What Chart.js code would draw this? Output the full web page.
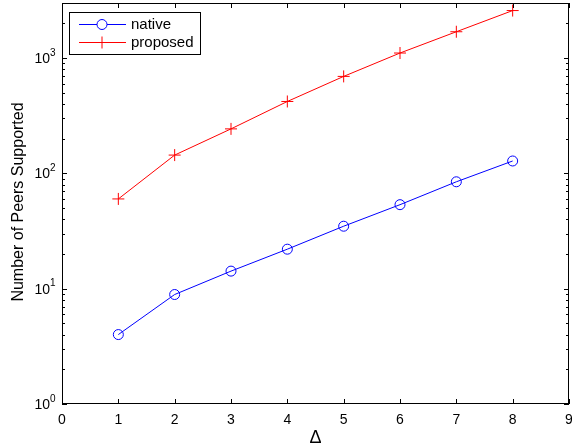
<!DOCTYPE html>
<html>
<head>
<meta charset="utf-8">
<script src="https://cdn.jsdelivr.net/npm/chart.js@4.4.1/dist/chart.umd.min.js"></script>
<style>
  html, body { margin: 0; padding: 0; background: #fff; }
  #wrap { width: 572px; height: 448px; }
</style>
</head>
<body>
<div id="wrap"><canvas id="peerChart" width="572" height="448"></canvas></div>
<script>
// data
const deltas = [1, 2, 3, 4, 5, 6, 7, 8];
const nativePeers = [4, 8.9, 14.2, 22, 34.8, 53.5, 84.5, 128];
const proposedPeers = [60, 144, 243, 420, 693, 1105, 1690, 2580];
const xTicks = [0, 1, 2, 3, 4, 5, 6, 7, 8, 9];
const yExponents = [0, 1, 2, 3];

const FONT = '"Liberation Sans", Arial, Helvetica, sans-serif';

const ctx = document.getElementById('peerChart').getContext('2d');

// MATLAB-ish axes: box, inward ticks, log minor ticks, 10^k labels, legend
const matlabAxes = {
    id: 'matlabAxes',
    afterDraw(chart) {
        const c = chart.ctx;
        const area = chart.chartArea;
        const xs = chart.scales.x;
        const ys = chart.scales.y;
        c.save();
        c.strokeStyle = '#000';
        c.lineWidth = 1;
        c.strokeRect(area.left + 0.5, area.top + 0.5, area.right - area.left - 1, area.bottom - area.top - 1);

        c.beginPath();
        xTicks.forEach(v => {
            let px = Math.round(xs.getPixelForValue(v)) + 0.5;
            c.moveTo(px, area.bottom);
            c.lineTo(px, area.bottom - 5);
            c.moveTo(px, area.top);
            c.lineTo(px, area.top + 5);
        });
        for (let e = 0; e <= 3; e++) {
            for (let m = 1; m <= 9; m++) {
                let v = m * Math.pow(10, e);
                if (v > ys.max) break;
                let py = Math.round(ys.getPixelForValue(v)) + 0.5;
                let len = m === 1 ? 5 : 3;
                c.moveTo(area.left, py);
                c.lineTo(area.left + len, py);
                c.moveTo(area.right, py);
                c.lineTo(area.right - len, py);
            }
        }
        c.stroke();

        // tick labels
        c.fillStyle = '#000';
        c.font = '14px ' + FONT;
        c.textAlign = 'center';
        c.textBaseline = 'top';
        xTicks.forEach(v => {
            c.fillText(String(v), xs.getPixelForValue(v), area.bottom + 9);
        });
        yExponents.forEach(e => {
            let py = ys.getPixelForValue(Math.pow(10, e));
            c.font = '14px ' + FONT;
            c.textAlign = 'right';
            c.textBaseline = 'middle';
            c.fillText('10', area.left - 12, py + 1);
            c.font = '10px ' + FONT;
            c.textAlign = 'left';
            c.fillText(String(e), area.left - 12, py - 5);
        });

        // axis titles
        c.font = '18px ' + FONT;
        c.textAlign = 'center';
        c.textBaseline = 'alphabetic';
        c.fillText('\u0394', (area.left + area.right) / 2, 443);
        c.save();
        c.translate(23, 202);
        c.rotate(-Math.PI / 2);
        c.font = '16px ' + FONT;
        c.fillText('Number of Peers Supported', 0, 0);
        c.restore();

        // legend box
        const lx = 69, ly = 12, lw = 131, lh = 42;
        c.fillStyle = '#fff';
        c.fillRect(lx, ly, lw, lh);
        c.strokeRect(lx + 0.5, ly + 0.5, lw, lh);
        chart.data.datasets.forEach((ds, i) => {
            let y = ly + 12.5 + i * 18;
            c.strokeStyle = ds.borderColor;
            c.lineWidth = 1;
            c.beginPath();
            c.moveTo(lx + 10, y);
            c.lineTo(lx + 57, y);
            c.stroke();
            Chart.helpers.drawPoint(c, {
                pointStyle: ds.pointStyle,
                radius: ds.pointRadius,
                borderWidth: 1
            }, lx + 33, y);
            c.fillStyle = '#000';
            c.font = '15px ' + FONT;
            c.textAlign = 'left';
            c.textBaseline = 'middle';
            c.fillText(ds.label, lx + 62, y);
        });
        c.restore();
    }
};

let peerChart = new Chart(ctx, {
    type: 'line',
    data: {
        datasets: [
            {
                label: 'native',
                data: deltas.map((d, i) => ({ x: d, y: nativePeers[i] })),
                borderColor: '#0000ff',
                backgroundColor: 'rgba(0,0,0,0)',
                pointBorderColor: '#0000ff',
                pointBackgroundColor: 'rgba(0,0,0,0)',
                pointStyle: 'circle',
                pointRadius: 5,
                pointBorderWidth: 1,
                borderWidth: 1,
                tension: 0
            },
            {
                label: 'proposed',
                data: deltas.map((d, i) => ({ x: d, y: proposedPeers[i] })),
                borderColor: '#ff0000',
                backgroundColor: 'rgba(0,0,0,0)',
                pointBorderColor: '#ff0000',
                pointStyle: 'cross',
                pointRadius: 6,
                pointBorderWidth: 1,
                borderWidth: 1,
                tension: 0
            }
        ]
    },
    options: {
        responsive: false,
        animation: false,
        devicePixelRatio: 1,
        layout: {
            autoPadding: false,
            padding: { left: 62, right: 3, top: 3, bottom: 44 }
        },
        plugins: {
            legend: { display: false },
            tooltip: { enabled: false }
        },
        scales: {
            x: {
                type: 'linear',
                min: 0,
                max: 9,
                display: false
            },
            y: {
                type: 'logarithmic',
                min: 1,
                max: 3000,
                display: false
            }
        }
    },
    plugins: [matlabAxes]
});
</script>
</body>
</html>
